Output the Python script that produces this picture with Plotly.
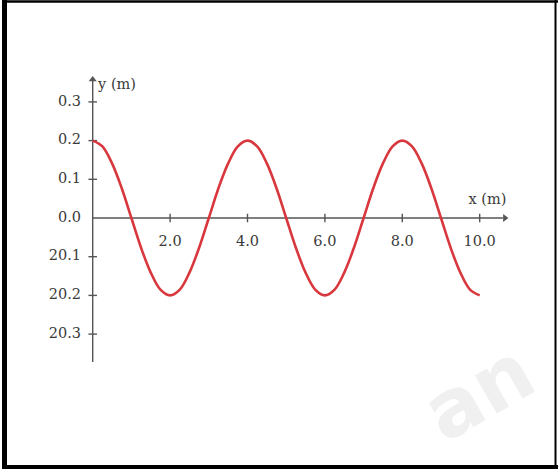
import plotly.graph_objects as go

# Data (displacement y at positions x)
x_vals = [0, 0.25, 0.5, 0.75, 1, 1.25, 1.5, 1.75, 2, 2.25, 2.5, 2.75, 3, 3.25, 3.5, 3.75,
          4, 4.25, 4.5, 4.75, 5, 5.25, 5.5, 5.75, 6, 6.25, 6.5, 6.75, 7, 7.25, 7.5, 7.75,
          8, 8.25, 8.5, 8.75, 9, 9.25, 9.5, 9.75, 10]
y_vals = [0.2, 0.185, 0.141, 0.077, 0, -0.077, -0.141, -0.185, -0.2, -0.185, -0.141, -0.077,
          0, 0.077, 0.141, 0.185, 0.2, 0.185, 0.141, 0.077, 0, -0.077, -0.141, -0.185,
          -0.2, -0.185, -0.141, -0.077, 0, 0.077, 0.141, 0.185, 0.2, 0.185, 0.141, 0.077,
          0, -0.077, -0.141, -0.185, -0.2]

x_ticks = [2, 4, 6, 8, 10]
x_tick_labels = ["2.0", "4.0", "6.0", "8.0", "10.0"]
y_ticks = [0.3, 0.2, 0.1, 0.0, -0.1, -0.2, -0.3]
y_tick_labels = ["0.3", "0.2", "0.1", "0.0", "20.1", "20.2", "20.3"]

W, H = 558, 473
X0PX, XSCALE = 92.7, 38.7    # pixel of x=0, px per unit
Y0PX, YSCALE = 218.0, 387.0  # pixel of y=0, px per unit

x_range = [-X0PX / XSCALE, (W - X0PX) / XSCALE]
y_range = [-(H - Y0PX) / YSCALE, Y0PX / YSCALE]

AX = "#555555"
TXT = "#3a3a3a"
FONT = "DejaVu Serif"
FS = 14.5

fig = go.Figure()


def px(xp):
    return xp / W


def py(yp):
    return 1 - yp / H


# faint watermark (bottom right)
fig.add_annotation(xref="paper", yref="paper", x=px(478), y=py(392), text="<b>an</b>",
                   xanchor="center", yanchor="middle",
                   showarrow=False, textangle=-30,
                   font=dict(family="DejaVu Sans", size=80, color="#f0f0f0"))

# y axis line + arrow
fig.add_trace(go.Scatter(x=[0, 0], y=[-0.372, 0.355], mode="lines",
                         line=dict(color=AX, width=1.4), hoverinfo="skip", showlegend=False))
fig.add_trace(go.Scatter(x=[0], y=[0.358], mode="markers",
                         marker=dict(symbol="triangle-up", size=7, color=AX), hoverinfo="skip", showlegend=False))
# x axis line + arrow
fig.add_trace(go.Scatter(x=[0, 10.6], y=[0, 0], mode="lines",
                         line=dict(color=AX, width=1.4), hoverinfo="skip", showlegend=False))
fig.add_trace(go.Scatter(x=[10.65], y=[0], mode="markers",
                         marker=dict(symbol="triangle-right", size=7, color=AX), hoverinfo="skip", showlegend=False))

# x ticks (crossing)
tx, ty = [], []
for t in x_ticks:
    tx += [t, t, None]
    ty += [-0.011, 0.011, None]
fig.add_trace(go.Scatter(x=tx, y=ty, mode="lines", line=dict(color=AX, width=1.4),
                         hoverinfo="skip", showlegend=False))
# y ticks (crossing)
sx, sy = [], []
for t in y_ticks:
    if t == 0:
        continue
    sx += [-0.11, 0.11, None]
    sy += [t, t, None]
fig.add_trace(go.Scatter(x=sx, y=sy, mode="lines", line=dict(color=AX, width=1.4),
                         hoverinfo="skip", showlegend=False))

# wave
fig.add_trace(go.Scatter(x=x_vals, y=y_vals, mode="lines",
                         line=dict(color="#d8383d", width=2.6, shape="spline", smoothing=1.0),
                         hoverinfo="skip", showlegend=False))

# tick labels
fig.add_trace(go.Scatter(x=[-0.3] * len(y_ticks), y=y_ticks, mode="text",
                         text=y_tick_labels, textposition="middle left",
                         textfont=dict(family=FONT, size=FS, color=TXT),
                         hoverinfo="skip", showlegend=False))
fig.add_trace(go.Scatter(x=x_ticks, y=[-0.063] * len(x_ticks), mode="text",
                         text=x_tick_labels, textposition="middle center",
                         textfont=dict(family=FONT, size=FS, color=TXT),
                         hoverinfo="skip", showlegend=False))
# axis titles
fig.add_trace(go.Scatter(x=[0.14, 10.2], y=[0.343, 0.046], mode="text",
                         text=["y (m)", "x (m)"], textposition=["middle right", "middle center"],
                         textfont=dict(family=FONT, size=FS, color=TXT),
                         hoverinfo="skip", showlegend=False))

shapes = [
    dict(type="line", xref="paper", yref="paper", x0=px(4.5), x1=px(4.5), y0=py(0), y1=py(469),
         line=dict(color="black", width=5)),
    dict(type="line", xref="paper", yref="paper", x0=px(2), x1=px(558), y0=py(1.5), y1=py(1.5),
         line=dict(color="black", width=2.5)),
    dict(type="line", xref="paper", yref="paper", x0=px(2), x1=px(558), y0=py(467), y1=py(467),
         line=dict(color="black", width=4)),
    dict(type="line", xref="paper", yref="paper", x0=px(555.5), x1=px(555.5), y0=py(0), y1=py(469),
         line=dict(color="black", width=2)),
]

fig.update_layout(
    width=W, height=H,
    margin=dict(l=0, r=0, t=0, b=0),
    paper_bgcolor="white", plot_bgcolor="white",
    xaxis=dict(range=x_range, visible=False, domain=[0, 1], fixedrange=True),
    yaxis=dict(range=y_range, visible=False, domain=[0, 1], fixedrange=True),
    shapes=shapes,
    showlegend=False,
)

fig.write_html("out.html", config={"displayModeBar": False},
               post_script="document.body.style.margin='0';document.body.style.overflow='hidden';")
